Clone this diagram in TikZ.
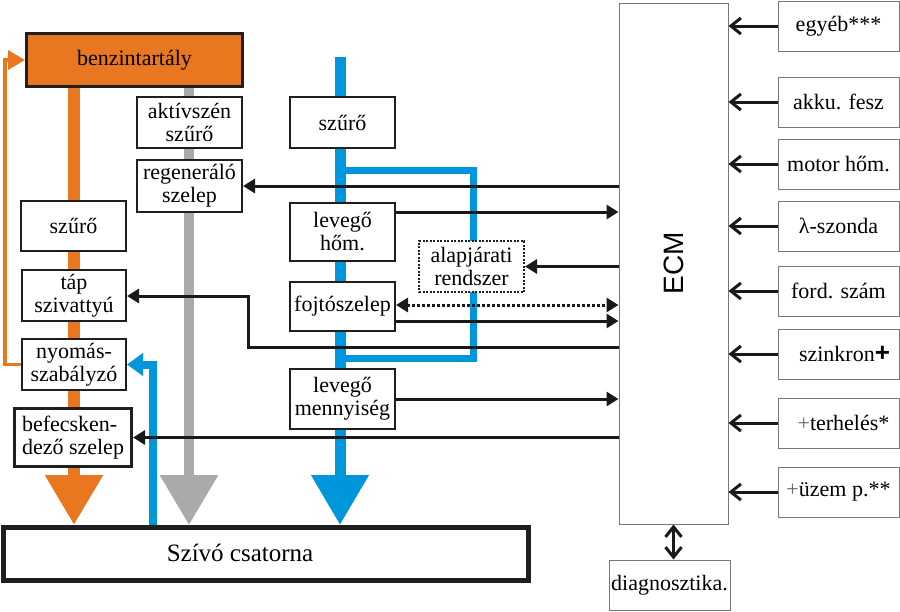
\documentclass[tikz,border=0pt]{standalone}
\usepackage{fontspec}
\setmainfont{Liberation Serif}
\setsansfont{Liberation Sans}
\usetikzlibrary{arrows.meta,backgrounds}
\definecolor{orng}{RGB}{232,119,32}
\definecolor{bluep}{RGB}{0,150,220}
\definecolor{grayp}{RGB}{170,170,170}
\definecolor{thinc}{RGB}{120,120,120}
\begin{document}
\begin{tikzpicture}[x=1pt,y=-1pt,
  every node/.style={font=\fontsize{22}{23}\selectfont, inner sep=0pt, align=center},
  box/.style={draw=black!88, line width=2pt, fill=white},
  thickbox/.style={draw=black!88, line width=3pt},
  tbox/.style={draw=thinc, line width=1pt, fill=white},
  sig/.style={line width=3pt, black!90},
  tip/.style={-{Triangle[length=12pt,width=14pt]}},
  tipboth/.style={{Triangle[length=12pt,width=14pt]}-{Triangle[length=12pt,width=14pt]}},
  barb/.style={-{Straight Barb[length=10pt,width=16pt]}},
  barbboth/.style={{Straight Barb[length=10pt,width=16pt]}-{Straight Barb[length=10pt,width=16pt]}},
  dotline/.style={dash pattern=on 3pt off 2pt}
]
\useasboundingbox (0,0) rectangle (900,611);

% ---------- left column boxes ----------
\node[thickbox, fill=orng, minimum width=216pt, minimum height=53pt] (benz) at (134.5,60) {benzintartály};
\node[box, minimum width=105pt, minimum height=51pt] (akt) at (189.5,122.5) {aktívszén\\szűrő};
\node[box, minimum width=105pt, minimum height=52pt] (regen) at (189.5,186) {regeneráló\\szelep};
\node[box, minimum width=105pt, minimum height=50pt] (szuro1) at (73.5,226) {szűrő};
\node[box, minimum width=104pt, minimum height=51pt] (tap) at (74,295.5) {táp\\szivattyú};
\node[box, minimum width=104pt, minimum height=51pt] (nyomas) at (74,364.5) {nyomás-\\szabályzó};
\node[thickbox, fill=white, minimum width=117pt, minimum height=58pt, align=left] (befecs) at (73,437.5) {befecsken-\\dező szelep};
\node[draw=black!88, line width=5pt, fill=white, minimum width=525pt, minimum height=53pt] (szivo) at (265.5,554) {};
\node[font=\fontsize{25}{26}\selectfont] (szivot) at (240,553) {Szívó csatorna};

% ---------- middle column boxes ----------
\node[box, minimum width=105pt, minimum height=51pt] (szuro2) at (342.5,122.5) {szűrő};
\node[box, minimum width=105pt, minimum height=58pt] (levhom) at (342.5,232) {levegő\\hőm.};
\node[box, minimum width=105pt, minimum height=49pt] (fojto) at (342.5,306.5) {fojtószelep};
\node[box, minimum width=105pt, minimum height=60pt] (levmenny) at (342.5,399) {levegő\\mennyiség};
\node[draw=black!88, line width=2pt, dash pattern=on 2pt off 1.5pt, fill=white, minimum width=105pt, minimum height=51pt] (alap) at (471.5,266.5) {alapjárati\\rendszer};

% ---------- ECM and sensors ----------
\node[tbox, minimum width=109pt, minimum height=521pt] (ecm) at (673.5,263.5) {\rotatebox{90}{\sffamily\fontsize{28}{28}\selectfont ECM}};
\node[tbox, minimum width=121pt, minimum height=50pt] (diag) at (669.5,585) {diagnosztika.};

\node[tbox, minimum width=121pt, minimum height=50pt] (r1) at (838.5,26) {egyéb***};
\node[tbox, minimum width=121pt, minimum height=50pt] (r2) at (838.5,102) {akku. fesz};
\node[tbox, minimum width=121pt, minimum height=50pt] (r3) at (838.5,164) {motor hőm.};
\node[tbox, minimum width=121pt, minimum height=50pt] (r4) at (838.5,226) {λ-szonda};
\node[tbox, minimum width=121pt, minimum height=50pt] (r5) at (838.5,291) {ford. szám};
\node[tbox, minimum width=121pt, minimum height=50pt] (r6) at (838.5,354) {\hspace*{12pt}szinkron{\sffamily\bfseries\fontsize{26}{26}\selectfont +}};
\node[tbox, minimum width=121pt, minimum height=50pt] (r7) at (838.5,423) {\hspace*{10pt}{\color{black!60}+}terhelés*};
\node[tbox, minimum width=121pt, minimum height=50pt] (r8) at (838.5,492) {{\color{black!60}+}üzem p.**};

% ---------- helper coordinates ----------
\coordinate (ox) at (74,0);
\coordinate (gx) at (189,0);
\coordinate (bx) at (340,0);
\coordinate (btop) at (340,57);
\coordinate (sx) at (153,0);
\coordinate (byx) at (473,0);
\coordinate (by1) at (0,170);
\coordinate (by2) at (0,358);
\coordinate (ofb) at (5,0);
\coordinate (h212) at (0,212);
\coordinate (h305) at (0,305);
\coordinate (h321) at (0,321);
\coordinate (h347) at (0,347);
\coordinate (tk) at (248,296);

% ---------- pipes (behind boxes) ----------
\begin{scope}[on background layer]
  \draw[orng, line width=12pt, -{Triangle[length=50pt,width=55pt]}] (benz.south -| ox) -- (szivo.north -| ox);
  \draw[grayp, line width=10pt, -{Triangle[length=50pt,width=56pt]}] (benz.south -| gx) -- (szivo.north -| gx);
  \draw[bluep, line width=11pt, -{Triangle[length=50pt,width=55pt]}] (btop) -- (szivo.north -| bx);
  \draw[bluep, line width=7pt] (bx |- by1) -| (byx |- by2) -- (bx |- by2);
  \draw[bluep, line width=8pt, -{Triangle[length=16pt,width=22pt]}] (szivo.north -| sx) |- (nyomas.east);
  \draw[orng, line width=3.5pt, -{Triangle[length=17pt,width=19pt]}] (nyomas.west) -| (ofb |- benz.west) -- (benz.west);
\end{scope}

% ---------- signals ----------
\draw[sig, tip] (ecm.west |- regen.east) -- (regen.east);
\draw[sig, tip] (levhom.east |- h212) -- (ecm.west |- h212);
\draw[sig, tip] (ecm.west |- alap.east) -- (alap.east);
\draw[sig, dotline, tipboth] (fojto.east |- h305) -- (ecm.west |- h305);
\draw[sig, tip] (fojto.east |- h321) -- (ecm.west |- h321);
\draw[sig, tip] (ecm.west |- h347) -| (tk) -- (tap.east |- tk);
\draw[sig, tip] (levmenny.east) -- (ecm.west |- levmenny.east);
\draw[sig, tip] (ecm.west |- befecs.east) -- (befecs.east);

\foreach \r in {r1,r2,r3,r4,r5,r6,r7,r8}
  \draw[sig, barb] (\r.west) -- (ecm.east |- \r.west);
\draw[sig, barbboth] (ecm.south) -- (ecm.south |- diag.north);
\end{tikzpicture}
\end{document}
